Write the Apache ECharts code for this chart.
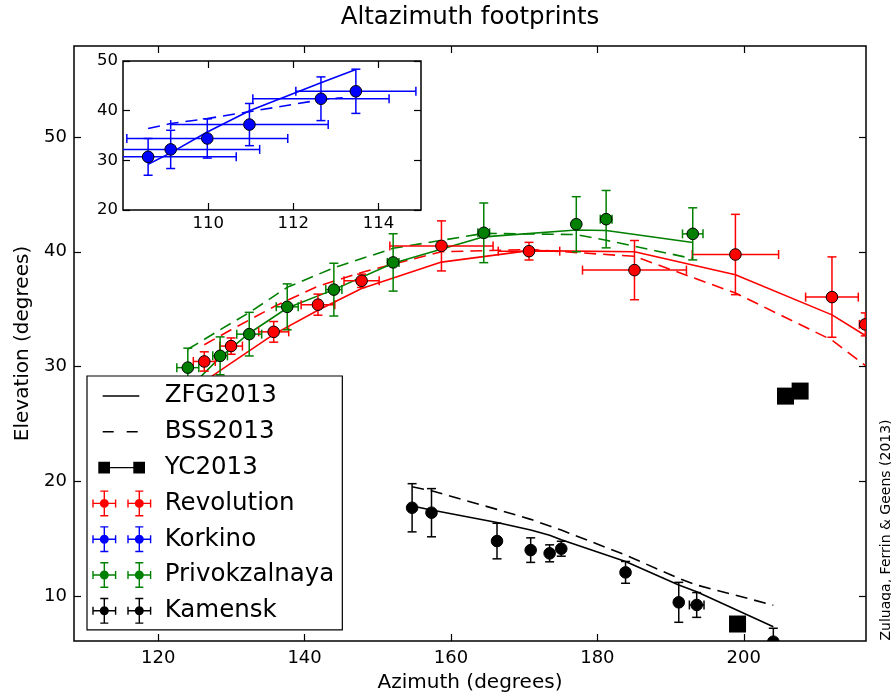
<!DOCTYPE html>
<html>
<head>
<meta charset="utf-8">
<title>Altazimuth footprints</title>
<script src="https://cdn.jsdelivr.net/npm/echarts@6/dist/echarts.min.js"></script>
<style>
  html, body { margin: 0; padding: 0; background: #fff; }
  #chart { width: 891px; height: 698px; }
</style>
</head>
<body>
<div id="chart"></div>
<script>
// Revolution (red)
const revAz = [126.3, 129.96, 135.78, 141.83, 147.79, 158.7, 170.66, 185.07, 198.86, 212.05, 216.6];
const revEl = [30.44, 31.78, 33.02, 35.39, 37.47, 40.51, 40.05, 38.4, 39.76, 36.05, 33.67];
const revAzErr = [1.5, 1.55, 2.05, 2.3, 2.4, 7.05, 4.2, 7.1, 5.9, 3.6, 0.8];
const revElErr = [0.84, 0.71, 0.9, 0.92, 0.58, 2.18, 0.77, 2.58, 3.5, 3.5, 1.0];
const revZfg = [28.7, 30.3, 32.8, 34.9, 36.8, 39.1, 40.1, 40.0, 38.0, 34.5, 32.7];
const revBss = [31.9, 33.2, 35.2, 37.0, 38.2, 40.0, 40.2, 39.6, 36.4, 32.3, 30.1];

// Privokzalnaya (green)
const prvAz = [124.05, 128.46, 132.44, 137.63, 144.0, 152.1, 164.48, 177.12, 181.2, 193.03];
const prvEl = [29.9, 30.93, 32.82, 35.2, 36.7, 39.07, 41.65, 42.4, 42.84, 41.56];
const prvAzErr = [1.5, 1.0, 1.7, 1.5, 1.1, 0.8, 0.8, 0.5, 0.8, 1.4];
const prvElErr = [1.7, 1.65, 1.9, 2.0, 2.3, 2.5, 2.6, 2.4, 2.5, 2.27];
const prvZfg = [28.0, 30.8, 32.9, 35.1, 36.7, 39.0, 41.3, 41.9, 41.85, 40.8];
const prvBss = [31.5, 33.2, 34.7, 36.9, 38.6, 40.3, 41.6, 41.5, 41.0, 39.4];

// Kamensk (black)
const kamAz = [154.69, 157.34, 166.29, 170.89, 173.48, 175.07, 183.85, 191.12, 193.57, 204.04];
const kamEl = [17.69, 17.26, 14.79, 14.0, 13.72, 14.12, 12.06, 9.45, 9.22, 6.02];
const kamAzErr = [0, 0, 0, 0, 0, 0, 0, 0, 1.0, 0];
const kamElErr = [2.1, 2.1, 1.55, 1.07, 0.74, 0.65, 0.95, 1.74, 1.08, 1.17];
const kamZfg = [17.84, 17.5, 16.4, 15.75, 15.3, 14.9, 13.0, 10.96, 10.37, 7.33];
const kamBss = [19.52, 19.17, 17.55, 16.68, 16.1, 15.75, 13.57, 11.54, 10.96, 9.2];

// Korkino (blue, inset)
const korAz = [108.59, 109.12, 109.98, 110.97, 112.65, 113.47];
const korEl = [30.7, 32.2, 34.4, 37.2, 42.4, 43.9];
const korAzErr = [2.07, 2.09, 1.89, 1.85, 1.6, 1.41];
const korElErr = [3.7, 3.85, 3.95, 4.25, 4.4, 4.45];
const korZfg = [29.2, 31.5, 35.7, 40.0, 45.6, 48.3];
const korBssAz = [108.59, 109.12, 109.98, 110.97, 112.65, 113.16];
const korBss = [36.4, 37.4, 38.4, 39.8, 42.2, 42.6];

// YC2013 squares
const ycAz = [199.15, 205.7, 207.7];
const ycEl = [7.56, 27.42, 27.86];

// ticks
const xTicks = [120, 140, 160, 180, 200];
const yTicks = [10, 20, 30, 40, 50];
const insetXTicks = [110, 112, 114];
const insetYTicks = [20, 30, 40, 50];

const FONT = 'DejaVu Sans';
const INK = '#000';

const zip = (xs, ys) => xs.map((x, i) => [x, ys[i]]);
const errRows = (xs, ys, exs, eys) => xs.map((x, i) => [x, ys[i], exs[i], eys[i]]);

function renderErr(params, api) {
  const x = api.value(0), y = api.value(1), ex = api.value(2), ey = api.value(3);
  const style = { stroke: api.visual('color'), lineWidth: 1.5, fill: null };
  const kids = [];
  const seg = (a, b) => kids.push({ type: 'line', shape: { x1: a[0], y1: a[1], x2: b[0], y2: b[1] }, style: style });
  if (ey > 0) {
    const t = api.coord([x, y + ey]), b = api.coord([x, y - ey]);
    seg(t, b);
    seg([t[0] - 4.5, t[1]], [t[0] + 4.5, t[1]]);
    seg([b[0] - 4.5, b[1]], [b[0] + 4.5, b[1]]);
  }
  if (ex > 0) {
    const l = api.coord([x - ex, y]), r = api.coord([x + ex, y]);
    seg(l, r);
    seg([l[0], l[1] - 4.5], [l[0], l[1] + 4.5]);
    seg([r[0], r[1] - 4.5], [r[0], r[1] + 4.5]);
  }
  return { type: 'group', children: kids };
}

function renderDot(params, api) {
  const p = api.coord([api.value(0), api.value(1)]);
  return {
    type: 'circle',
    shape: { cx: p[0], cy: p[1], r: 5.8 },
    style: { fill: api.visual('color'), stroke: '#000', lineWidth: 1 }
  };
}

function modelLine(name, xs, ys, color, dashed, inset) {
  return {
    name: name, type: 'line', xAxisIndex: inset ? 2 : 0, yAxisIndex: inset ? 2 : 0,
    data: zip(xs, ys), symbol: 'none', silent: true, clip: true, z: 2,
    lineStyle: { color: color, width: 1.6, type: dashed ? [12, 7] : 'solid' }
  };
}

function station(name, xs, ys, exs, eys, color, inset) {
  const ax = inset ? 2 : 0;
  const rows = errRows(xs, ys, exs, eys);
  return [
    { name: name, type: 'custom', xAxisIndex: ax, yAxisIndex: ax, clip: true, z: 3,
      itemStyle: { color: color }, renderItem: renderErr, data: rows, silent: true },
    { name: name, type: 'custom', xAxisIndex: ax, yAxisIndex: ax, clip: true, z: 4,
      itemStyle: { color: color }, renderItem: renderDot, data: rows, silent: true }
  ];
}

// legend icons (68 x 26 box)
const rect = (x, y, w, h) => `M${x} ${y}h${w}v${h}h${-w}Z`;
const circ = (cx, cy, r) => `M${cx + r} ${cy}A${r} ${r} 0 1 1 ${cx - r} ${cy}A${r} ${r} 0 1 1 ${cx + r} ${cy}Z`;
function errGlyph(cx) {
  const w = 1.4;
  return rect(cx - 12, 13 - w / 2, 24, w) + rect(cx - w / 2, 0, w, 26) +
    rect(cx - 12, 9, w, 8) + rect(cx + 12 - w, 9, w, 8) +
    rect(cx - 4, 0, 8, w) + rect(cx - 4, 26 - w, 8, w) + circ(cx, 13, 4.5);
}
const box = (body) => 'path://M0 0' + body + 'M68 26';
const iconErr = box(errGlyph(12.6) + errGlyph(47.6));
const iconSolid = box(rect(11, 12.3, 36.6, 1.4));
const iconDash = box(rect(11, 12.3, 11, 1.4) + rect(35, 12.3, 11, 1.4));
const iconYC = box(rect(6.6, 7.2, 11.7, 11.7) + rect(18, 12.3, 24, 1.4) + rect(41.6, 7.2, 11.7, 11.7));

const tickStyle = { show: true, inside: true, length: 7, lineStyle: { color: INK, width: 1.2 } };

function axis(extra, ticks, labels, fontSize, margin) {
  return Object.assign({
    type: 'value',
    axisLine: { show: false },
    splitLine: { show: false },
    axisTick: Object.assign({ customValues: ticks }, tickStyle),
    axisLabel: labels
      ? { customValues: ticks, fontSize: fontSize, fontFamily: FONT, color: INK, margin: margin }
      : { show: false }
  }, extra);
}

const nameStyle = { fontSize: 20, fontFamily: FONT, color: INK };

const chart = echarts.init(document.getElementById('chart'));

chart.setOption({
  backgroundColor: '#fff',
  animation: false,
  title: {
    text: 'Altazimuth footprints',
    left: 470, top: 5, padding: 0, textAlign: 'center',
    textStyle: { fontSize: 24.5, fontWeight: 'normal', fontFamily: FONT, color: INK }
  },
  grid: [
    { left: 74, top: 46, right: 25, bottom: 57, show: true, borderColor: INK, borderWidth: 1.5, backgroundColor: 'transparent' },
    { left: 123, top: 61, width: 298, height: 149, show: true, borderColor: INK, borderWidth: 1.5, backgroundColor: '#fff' }
  ],
  xAxis: [
    axis({ gridIndex: 0, position: 'bottom', min: 108.5, max: 216.7,
      name: 'Azimuth (degrees)', nameLocation: 'middle', nameGap: 32, nameTextStyle: nameStyle }, xTicks, true, 18, 8),
    axis({ gridIndex: 0, position: 'top', min: 108.5, max: 216.7 }, xTicks, false),
    axis({ gridIndex: 1, position: 'bottom', min: 108, max: 115 }, insetXTicks, true, 16.5, 5),
    axis({ gridIndex: 1, position: 'top', min: 108, max: 115 }, insetXTicks, false)
  ],
  yAxis: [
    axis({ gridIndex: 0, position: 'left', min: 6.08, max: 57.93,
      name: 'Elevation (degrees)', nameLocation: 'middle', nameGap: 41, nameTextStyle: nameStyle }, yTicks, true, 18, 7),
    axis({ gridIndex: 0, position: 'right', min: 6.08, max: 57.93 }, yTicks, false),
    axis({ gridIndex: 1, position: 'left', min: 20, max: 50 }, insetYTicks, true, 16.5, 5),
    axis({ gridIndex: 1, position: 'right', min: 20, max: 50 }, insetYTicks, false)
  ],
  legend: {
    orient: 'vertical', left: 87, top: 376,
    padding: [7, 8, 6, 4.7],
    backgroundColor: '#fff', borderColor: INK, borderWidth: 1.2, borderRadius: 0,
    itemWidth: 68, itemHeight: 26, itemGap: 9.8,
    selectedMode: false,
    itemStyle: { borderWidth: 0, opacity: 1 },
    textStyle: { fontSize: 24.5, fontFamily: FONT, color: INK },
    data: [
      { name: 'ZFG2013', icon: iconSolid },
      { name: 'BSS2013', icon: iconDash },
      { name: 'YC2013', icon: iconYC },
      { name: 'Revolution', icon: iconErr },
      { name: 'Korkino', icon: iconErr },
      { name: 'Privokzalnaya', icon: iconErr },
      { name: 'Kamensk', icon: iconErr }
    ]
  },
  graphic: [
    {
      type: 'text', x: 886, y: 530, rotation: Math.PI / 2,
      style: { text: 'Zuluaga, Ferrin & Geens (2013)', font: '14px "DejaVu Sans"', fill: INK, align: 'center', verticalAlign: 'middle' }
    }
  ],
  series: [
    { name: 'ZFG2013', type: 'line', data: [], itemStyle: { color: INK }, lineStyle: { color: INK } },
    { name: 'BSS2013', type: 'line', data: [], itemStyle: { color: INK }, lineStyle: { color: INK, type: 'dashed' } },
    modelLine('Revolution ZFG2013', revAz, revZfg, '#ff0000', false),
    modelLine('Revolution BSS2013', revAz, revBss, '#ff0000', true),
    modelLine('Privokzalnaya ZFG2013', prvAz, prvZfg, '#008000', false),
    modelLine('Privokzalnaya BSS2013', prvAz, prvBss, '#008000', true),
    modelLine('Kamensk ZFG2013', kamAz, kamZfg, '#000000', false),
    modelLine('Kamensk BSS2013', kamAz, kamBss, '#000000', true),
    modelLine('Korkino ZFG2013', korAz, korZfg, '#0000ff', false, true),
    modelLine('Korkino BSS2013', korBssAz, korBss, '#0000ff', true, true),
    ...station('Revolution', revAz, revEl, revAzErr, revElErr, '#ff0000'),
    ...station('Korkino', korAz, korEl, korAzErr, korElErr, '#0000ff', true),
    ...station('Privokzalnaya', prvAz, prvEl, prvAzErr, prvElErr, '#008000'),
    ...station('Kamensk', kamAz, kamEl, kamAzErr, kamElErr, '#000000'),
    {
      name: 'YC2013', type: 'scatter', xAxisIndex: 0, yAxisIndex: 0,
      data: zip(ycAz, ycEl), symbol: 'rect', symbolSize: 17, z: 5,
      itemStyle: { color: INK, opacity: 1 }, silent: true
    }
  ]
});
</script>
</body>
</html>
